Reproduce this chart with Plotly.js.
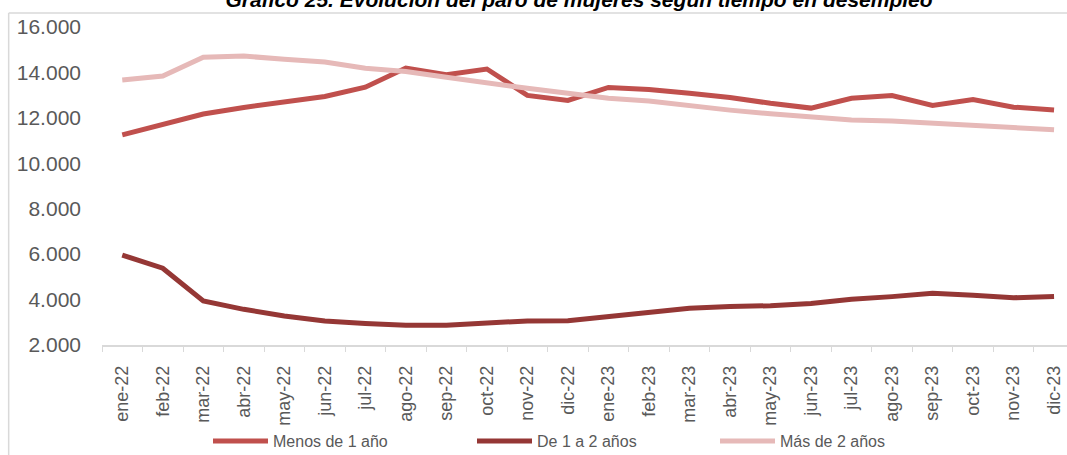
<!DOCTYPE html>
<html>
<head>
<meta charset="utf-8">
<script src="https://cdn.plot.ly/plotly-3.0.1.min.js"></script>
<style>html,body{margin:0;padding:0;background:#fff;}#chart{width:1067px;height:455px;}</style>
</head>
<body>
<div id="chart"></div>
<script>
const months = ["ene-22","feb-22","mar-22","abr-22","may-22","jun-22","jul-22","ago-22","sep-22","oct-22","nov-22","dic-22",
                "ene-23","feb-23","mar-23","abr-23","may-23","jun-23","jul-23","ago-23","sep-23","oct-23","nov-23","dic-23"];
const menos1 = [11250,11730,12170,12460,12680,12940,13350,14190,13900,14150,12990,12770,
                13340,13250,13080,12900,12640,12430,12860,12980,12550,12810,12470,12350];
const de1a2  = [5960,5380,3940,3570,3280,3060,2950,2870,2870,2980,3060,3070,
                3250,3400,3620,3690,3730,3830,4010,4130,4280,4190,4080,4130];
const mas2   = [13670,13840,14670,14720,14580,14460,14180,14040,13790,13520,13300,13080,
                12860,12740,12520,12340,12180,12050,11910,11860,11760,11690,11590,11480];
const names = ["Menos de 1 año","De 1 a 2 años","Más de 2 años"];
const colors = ["#C0504D","#953735","#E6B9B8"];

const series = [menos1, de1a2, mas2];
const legendIds = ["legend","legend2","legend3"];
const traces = series.map((s,i)=>({
  type:"scatter", mode:"lines", x: months, y: s, name: names[i],
  line:{color:colors[i], width:5}, legend: legendIds[i], showlegend:true, hoverinfo:"x+y+name"
}));

const W = 1067, H = 455;
const L = 102.3, T = 27, B = 110;
const pw = W - L, ph = H - T - B;
const step = 40.5;
const px = v => (v - L) / pw;
const py = v => (H - B - v) / ph;

const IW = 55;
const legFont = {family:"Liberation Sans, Arial, sans-serif", size:16, color:"#595959"};
function leg(textStartX){
  return {orientation:"h", xref:"container", yref:"container",
          x: (textStartX - IW - 10) / W, xanchor:"left", y: 1 - 441 / H, yanchor:"middle",
          itemwidth: IW, font: legFont, bgcolor:"rgba(0,0,0,0)", borderwidth:0};
}

const layout = {
  width: W, height: H,
  margin:{l:L, r:0, t:T, b:B, pad:0, autoexpand:false},
  paper_bgcolor:"#fff", plot_bgcolor:"#fff",
  separators:",.",
  showlegend:true,
  title:{text:"<b><i>Gráfico 25. Evolución del paro de mujeres según tiempo en desempleo</i></b>",
         font:{family:"Liberation Sans, Arial, sans-serif", size:21, color:"#000"},
         x: 579/W, xanchor:"center", xref:"container", y:1, yref:"container", yanchor:"middle"},
  xaxis:{type:"category", range:[-0.5, -0.5 + pw/step], showgrid:false, zeroline:false,
         showline:true, linecolor:"#D9D9D9", linewidth:1.5, automargin:false,
         ticks:"outside", ticklen:5, tickcolor:"#D9D9D9", tickwidth:1, tickson:"boundaries",
         tickangle:-90, ticklabelstandoff:12,
         tickfont:{family:"Liberation Sans, Arial, sans-serif", size:18, color:"#595959"}},
  yaxis:{range:[2000,16000], dtick:2000, tick0:2000, tickformat:",d", showgrid:false, zeroline:false,
         showline:false, ticks:"", ticklabelstandoff:20, automargin:false,
         tickfont:{family:"Liberation Sans, Arial, sans-serif", size:21, color:"#595959"}},
  legend: leg(273),
  legend2: leg(537),
  legend3: leg(780),
  shapes:[
    {type:"line", xref:"paper", yref:"paper", x0:px(9), x1:1.02, y0:py(13), y1:py(13), line:{color:"#D9D9D9", width:1.5}},
    {type:"line", xref:"paper", yref:"paper", x0:px(9), x1:px(9), y0:py(13), y1:py(460), line:{color:"#D9D9D9", width:1.5}}
  ]
};

Plotly.newPlot("chart", traces, layout, {displayModeBar:false, staticPlot:true});
</script>
</body>
</html>
